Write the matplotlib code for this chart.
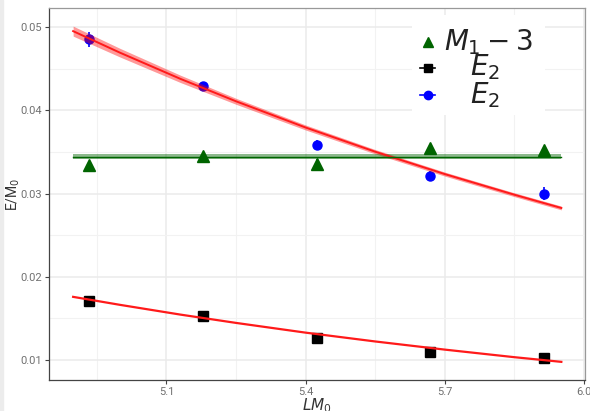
import matplotlib.pyplot as plt
from matplotlib.patches import Rectangle

# measured values
lm0 = [4.934, 5.178, 5.424, 5.668, 5.914]
e2_blue = [0.04856, 0.04290, 0.03580, 0.03210, 0.03000]
e2_blue_err = [0.0009, 0.0005, 0.0006, 0.0006, 0.0008]
m1 = [0.03340, 0.03450, 0.03360, 0.03550, 0.03520]
m1_err = [0.0005, 0.0005, 0.0005, 0.0005, 0.0005]
e2_black = [0.01710, 0.01530, 0.01260, 0.01100, 0.01020]

# fit curves
fit_x = [4.899, 5.0, 5.13, 5.25, 5.4, 5.55, 5.7, 5.85, 5.951]
fit_upper = [0.04952, 0.04693, 0.04379, 0.04109, 0.03794, 0.03503, 0.03234, 0.02986, 0.02827]
fit_upper_err = [0.0006, 0.00052, 0.00044, 0.00036, 0.0003, 0.00026, 0.00024, 0.00023, 0.00023]
fit_lower = [0.01759, 0.01663, 0.01546, 0.01446, 0.01329, 0.01223, 0.01125, 0.01034, 0.00978]
m1_fit = 0.0344
m1_fit_err = 0.0003

fig = plt.figure(figsize=(5.9, 4.11), dpi=100)
fig.patches.append(Rectangle((0, 0), 3 / 590, 1, transform=fig.transFigure,
                             color="#ececec", zorder=0))
ax = fig.add_axes([49 / 590, 1 - 380 / 411, 536 / 590, 372 / 411])

ax.errorbar(lm0, m1, yerr=m1_err, fmt="^", color="darkgreen", ms=8,
            elinewidth=1.2, capsize=0, zorder=3)
ax.plot(lm0, e2_black, "s", color="black", ms=7, zorder=3)
ax.errorbar(lm0, e2_blue, yerr=e2_blue_err, fmt="o", color="blue", ms=6.5,
            elinewidth=1.2, capsize=0, zorder=3)

lo = [v - e for v, e in zip(fit_upper, fit_upper_err)]
hi = [v + e for v, e in zip(fit_upper, fit_upper_err)]
ax.fill_between(fit_x, lo, hi, color="red", alpha=0.4, lw=0, zorder=4)
ax.plot(fit_x, fit_upper, color="#ff1a1a", lw=1.4, zorder=5)
ax.plot(fit_x, fit_lower, color="#ff1a1a", lw=1.6, zorder=5)
ax.fill_between([fit_x[0], fit_x[-1]], m1_fit - m1_fit_err, m1_fit + m1_fit_err,
                color="darkgreen", alpha=0.45, lw=0, zorder=4)
ax.plot([fit_x[0], fit_x[-1]], [m1_fit, m1_fit], color="darkgreen", lw=1.0, zorder=5)

ax.set_xlim(4.847, 6.002)
ax.set_ylim(0.0076, 0.0523)
ax.set_xticks([5.1, 5.4, 5.7, 6.0])
ax.set_xticklabels(["5.1", "5.4", "5.7", "6.0"])
ax.set_yticks([0.01, 0.02, 0.03, 0.04, 0.05])
ax.set_yticklabels(["0.01", "0.02", "0.03", "0.04", "0.05"])
ax.set_xticks([4.95, 5.25, 5.55, 5.85], minor=True)
ax.set_yticks([0.015, 0.025, 0.035, 0.045], minor=True)
ax.grid(which="major", color="#ebebeb", lw=1.1)
ax.grid(which="minor", color="#f2f2f2", lw=0.8)
ax.set_axisbelow(True)
ax.tick_params(which="major", direction="out", length=3, width=0.8,
               color="#444444", labelsize=8, labelcolor="#707070", pad=2)
ax.tick_params(which="minor", length=0)
for t in ax.get_xticklabels() + ax.get_yticklabels():
    t.set_fontfamily("Roboto")

ax.spines["left"].set_color("#444444")
ax.spines["bottom"].set_color("#444444")
ax.spines["top"].set_color("#999999")
ax.spines["right"].set_color("#999999")
for s in ax.spines.values():
    s.set_linewidth(0.9)

ax.set_ylabel("E/M$_0$", fontsize=10, color="#333333", family="Roboto")
ax.yaxis.set_label_coords(-0.05, 0.5)
ax.set_xlabel("$LM_0$", fontsize=11, color="#333333")
ax.xaxis.set_label_coords(0.5, -0.045)

# hand-made legend
ax.add_patch(Rectangle((0.677, 0.712), 0.248, 0.27, transform=ax.transAxes,
                       facecolor="white", edgecolor="none", zorder=6, clip_on=False))
ax.plot([0.707], [0.909], "^", color="darkgreen", ms=7, transform=ax.transAxes, zorder=7)
ax.plot([0.693, 0.721], [0.839, 0.839], "-", color="black", lw=1.2,
        transform=ax.transAxes, zorder=7)
ax.plot([0.707], [0.839], "s", color="black", ms=6, transform=ax.transAxes, zorder=7)
ax.plot([0.693, 0.721], [0.766, 0.766], "-", color="blue", lw=1.2,
        transform=ax.transAxes, zorder=7)
ax.plot([0.707], [0.766], "o", color="blue", ms=6, transform=ax.transAxes, zorder=7)
ax.text(0.82, 0.887, "$M_1 - 3$", fontsize=20, ha="center", va="baseline",
        color="#222222", transform=ax.transAxes, zorder=8)
ax.text(0.813, 0.820, "$E_2$", fontsize=20, ha="center", va="baseline",
        color="#222222", transform=ax.transAxes, zorder=8)
ax.text(0.813, 0.745, "$E_2$", fontsize=20, ha="center", va="baseline",
        color="#222222", transform=ax.transAxes, zorder=8)

fig.savefig("out.png", dpi=100)
